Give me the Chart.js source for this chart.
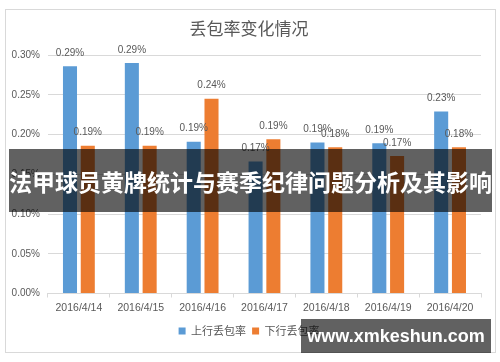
<!DOCTYPE html>
<html>
<head>
<meta charset="utf-8">
<script src="https://cdn.jsdelivr.net/npm/chart.js@4"></script>
<style>
  body { margin: 0; background: #fff; }
  #wrap { position: relative; width: 500px; height: 362px; overflow: hidden; }
  canvas { display: block; }
  #frame { position: absolute; left: 5px; top: 9px; width: 489px; height: 342px; border: 1px solid #d9d9d9; pointer-events: none; }
  #banner {
    position: absolute; left: 9px; top: 149px; width: 483px; height: 63px;
    background: rgba(0, 0, 0, 0.62); color: #fff;
    font: bold 23px "Noto Sans CJK SC", sans-serif;
    display: flex; align-items: center; justify-content: center; white-space: nowrap;
  }
  #mark {
    position: absolute; left: 301px; top: 319px; width: 190px; height: 34px;
    background: rgba(0, 0, 0, 0.62); color: #fff;
    font: bold 18px "Liberation Sans", sans-serif;
    display: flex; align-items: center; justify-content: center;
  }
</style>
</head>
<body>
<div id="wrap">
  <canvas id="chart" width="500" height="362"></canvas>
  <div id="frame"></div>
  <div id="banner">法甲球员黄牌统计与赛季纪律问题分析及其影响</div>
  <div id="mark">www.xmkeshun.com</div>
</div>
<script>
// values in percent
const categories = ['2016/4/14', '2016/4/15', '2016/4/16', '2016/4/17', '2016/4/18', '2016/4/19', '2016/4/20'];
const upRate = [0.286, 0.290, 0.191, 0.166, 0.190, 0.189, 0.229];
const downRate = [0.186, 0.186, 0.245, 0.194, 0.184, 0.173, 0.184];
const seriesNames = ['上行丢包率', '下行丢包率'];
const yTicks = [0, 0.05, 0.10, 0.15, 0.20, 0.25, 0.30];

const textColor = '#595959';
const gridColor = '#d9d9d9';

// draw value labels above each bar
const barLabels = {
  id: 'barLabels',
  afterDatasetsDraw(chart) {
    const ctx = chart.ctx;
    ctx.save();
    ctx.font = '10px "Liberation Sans", sans-serif';
    ctx.fillStyle = textColor;
    ctx.textAlign = 'center';
    ctx.textBaseline = 'middle';
    chart.data.datasets.forEach((ds, i) => {
      chart.getDatasetMeta(i).data.forEach((bar, j) => {
        ctx.fillText(ds.data[j].toFixed(2) + '%', bar.x, bar.y - 13);
      });
    });
    ctx.restore();
  }
};

new Chart(document.getElementById('chart'), {
  type: 'bar',
  data: {
    labels: categories,
    datasets: [
      { label: seriesNames[0], data: upRate, backgroundColor: '#5B9BD5', categoryPercentage: 0.575, barPercentage: 0.79 },
      { label: seriesNames[1], data: downRate, backgroundColor: '#ED7D31', categoryPercentage: 0.575, barPercentage: 0.79 }
    ]
  },
  options: {
    responsive: false,
    animation: false,
    layout: { padding: { left: 3.6, right: 5.4, top: 18, bottom: 15.5 } },
    scales: {
      x: {
        grid: { drawOnChartArea: false, drawTicks: true, tickLength: 4, color: gridColor },
        border: { color: gridColor },
        ticks: { color: textColor, font: { family: 'Liberation Sans', size: 10.5 }, padding: 4 },
        afterFit(scale) { scale.height += 1.4; }
      },
      y: {
        min: 0,
        max: 0.30,
        afterBuildTicks(scale) { scale.ticks = yTicks.map(v => ({ value: v })); },
        grid: { color: gridColor, drawTicks: false },
        border: { display: false },
        ticks: {
          color: textColor,
          font: { family: 'Liberation Sans', size: 10 },
          padding: 8,
          callback: v => v.toFixed(2) + '%'
        }
      },
      // empty right-hand spacer so the plot sits where the original does
      spacer: {
        type: 'linear',
        position: 'right',
        grid: { display: false },
        border: { display: false },
        ticks: { display: false },
        afterFit(scale) { scale.width = 13.6; }
      }
    },
    plugins: {
      title: {
        display: true,
        text: '丢包率变化情况',
        color: textColor,
        font: { family: 'Noto Sans CJK SC', size: 17, weight: 'normal' },
        padding: { top: 0, bottom: 16.6 }
      },
      legend: {
        position: 'bottom',
        labels: {
          color: textColor,
          font: { family: 'Noto Sans CJK SC', size: 11 },
          boxWidth: 7,
          boxHeight: 7,
          padding: 6
        }
      },
      tooltip: { enabled: false }
    }
  },
  plugins: [barLabels]
});
</script>
</body>
</html>
